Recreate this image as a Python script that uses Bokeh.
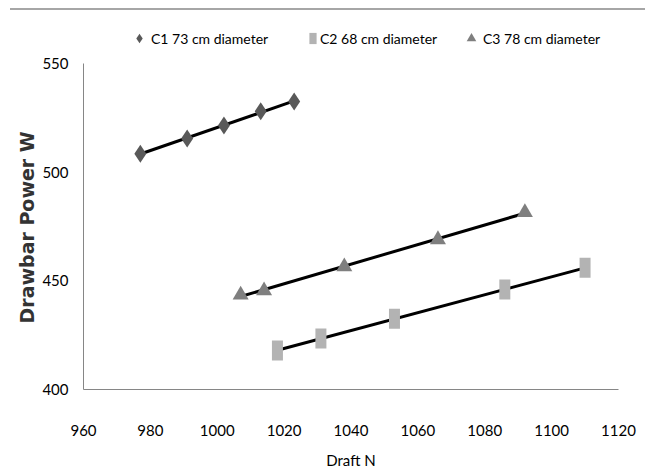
import numpy as np
from bokeh.plotting import figure
from bokeh.layouts import column
from bokeh.models import Legend, LegendItem, FixedTicker, Div
from bokeh.embed import file_html
from bokeh.resources import INLINE

# Data
c1_draft = [977, 991, 1002, 1013, 1023]
c1_power = [508.5, 515.5, 521.5, 528, 532.5]
c2_draft = [1018, 1031, 1053, 1086, 1110]
c2_power = [418, 423.5, 432.5, 446, 456]
c3_draft = [1007, 1014, 1038, 1066, 1092]
c3_power = [443.5, 445.5, 456.5, 469, 481.5]

series_labels = ["C1 73 cm diameter", "C2 68 cm diameter", "C3 78 cm diameter"]
x_ticks = [960, 980, 1000, 1020, 1040, 1060, 1080, 1100, 1120]
y_ticks = [400, 450, 500, 550]

FONT = "Lato"

# frame extends above the 550 line so the legend can sit inside it
TOP_GAP = 38          # px between frame top and the 550 gridline
FRAME_H = 364
y_top = 550 + TOP_GAP * (550 - 400) / (FRAME_H - TOP_GAP)

p = figure(width=644, height=464, x_range=(960, 1120), y_range=(400, y_top),
           output_backend="svg", toolbar_location=None,
           min_border_left=83, min_border_right=26, min_border_top=15, min_border_bottom=85)
p.grid.visible = False
p.outline_line_color = None

for ax, ticks in ((p.xaxis[0], x_ticks), (p.yaxis[0], y_ticks)):
    ax.ticker = FixedTicker(ticks=ticks)
    ax.axis_line_color = "#868686"
    ax.major_tick_line_color = None
    ax.minor_tick_line_color = None
    ax.major_tick_out = 0
    ax.major_label_text_font = FONT
    ax.major_label_text_font_size = "15px"
    ax.major_label_text_color = "#000000"
p.yaxis.bounds = (400, 550)

p.xaxis.major_label_standoff = 35
p.yaxis.major_label_standoff = 15
p.xaxis.axis_label = "Draft N"
p.xaxis.axis_label_text_font = FONT
p.xaxis.axis_label_text_font_size = "15px"
p.xaxis.axis_label_text_font_style = "normal"
p.xaxis.axis_label_text_color = "#000000"
p.xaxis.axis_label_standoff = 12
# trailing no-break spaces shift the visible title down to the centre of the 400-550 axis
p.yaxis.axis_label = "Drawbar Power W" + "\u00a0" * 6
p.yaxis.axis_label_text_font = "DejaVu Sans"
p.yaxis.axis_label_text_font_size = "19px"
p.yaxis.axis_label_text_font_style = "bold"
p.yaxis.axis_label_text_color = "#333333"
p.yaxis.axis_label_standoff = 1

# Linear trendlines
for xs, ys in ((c1_draft, c1_power), (c2_draft, c2_power), (c3_draft, c3_power)):
    k, b = np.polyfit(xs, ys, 1)
    lx = [min(xs), max(xs)]
    p.line(lx, [k * v + b for v in lx], line_color="black", line_width=3)

r1 = p.scatter(c1_draft, c1_power, marker="diamond", size=18, fill_color="#595959", line_color=None)
r2 = p.rect(c2_draft, c2_power, width=11, height=20, width_units="screen", height_units="screen",
            fill_color="#b3b3b3", line_color=None)
r3 = p.scatter(c3_draft, c3_power, marker="triangle", size=16, fill_color="#7f7f7f", line_color=None)

legend_specs = [
    (r1, series_labels[0], 44, 24, 24, 0),
    (r2, series_labels[1], 225, 9, 14, 3),
    (r3, series_labels[2], 376, 24, 24, 0),
]
for r, lab, xloc, gw, gh, so in legend_specs:
    leg = Legend(items=[LegendItem(label=lab, renderers=[r])], location=(xloc, 339),
                 orientation="horizontal", padding=0, margin=0, border_line_color=None,
                 background_fill_alpha=0, glyph_width=gw, glyph_height=gh, label_standoff=so,
                 label_height=24, label_text_font=FONT, label_text_font_size="14px",
                 label_text_color="#000000")
    p.add_layout(leg, "center")

top_rule = Div(text="", width=635, height=2, margin=(8, 0, 0, 10),
               styles={"background-color": "#a6a6a6"})
layout = column(top_rule, p, spacing=0)

open("out.html", "w").write(file_html(layout, INLINE))
